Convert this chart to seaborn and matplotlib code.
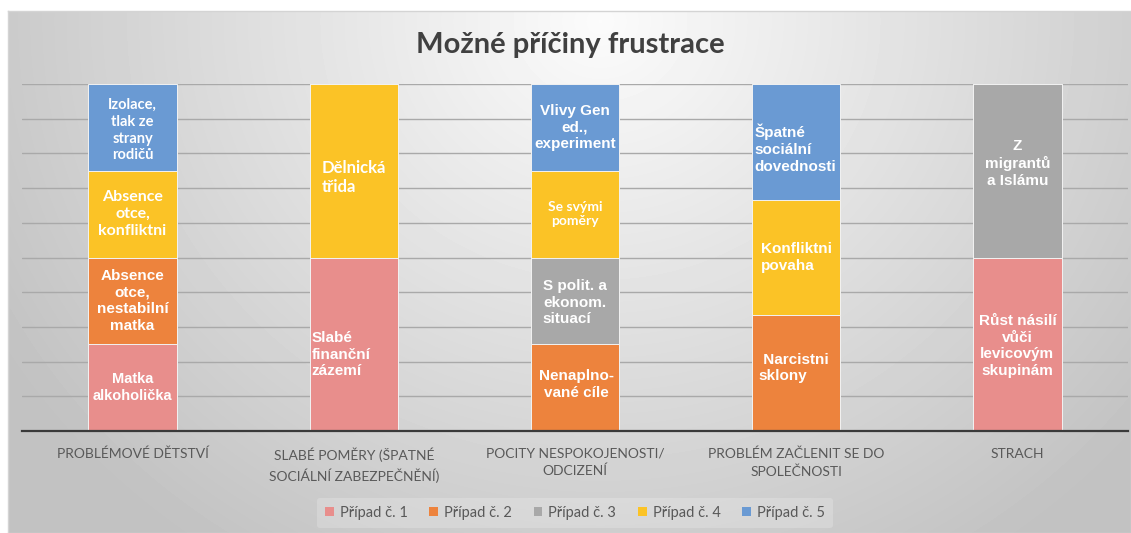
import numpy as np
import pandas as pd
import matplotlib.pyplot as plt
import seaborn as sns
from matplotlib.patches import Patch

# ---- data ----
categories = ["PROBLÉMOVÉ DĚTSTVÍ", "SLABÉ POMĚRY (ŠPATNÉ\nSOCIÁLNÍ ZABEZPEČNĚNÍ)",
              "POCITY NESPOKOJENOSTI/\nODCIZENÍ", "PROBLÉM ZAČLENIT SE DO\nSPOLEČNOSTI", "STRACH"]
series_names = ["Případ č. 1", "Případ č. 2", "Případ č. 3", "Případ č. 4", "Případ č. 5"]
pripad1 = [25, 50, 0, 0, 50]
pripad2 = [25, 0, 25, 33.33, 0]
pripad3 = [0, 0, 25, 0, 50]
pripad4 = [25, 50, 25, 33.33, 0]
pripad5 = [25, 0, 25, 33.34, 0]

labels1 = ["Matka\nalkoholička", "Slabé\nfinanční\nzázemí", "", "", "Růst násilí\nvůči\nlevicovým\nskupinám"]
labels2 = ["Absence\notce,\nnestabilní\nmatka", "", "Nenaplno-\nvané cíle", " Narcistni\nsklony", ""]
labels3 = ["", "", "S polit. a\nekonom.\nsituací", "", "Z\nmigrantů\na Islámu"]
labels4 = ["Absence\notce,\nkonfliktni", "Dělnická\ntřida", "Se svými\npoměry", "Konfliktni\npovaha", ""]
labels5 = ["Izolace,\ntlak ze\nstrany\nrodičů", "", "Vlivy Gen\ned.,\nexperiment", "Špatné\nsociální\ndovednosti", ""]

colors = ["#E88E8C", "#ED833D", "#A8A8A8", "#FBC326", "#6A9AD3"]

values = [pripad1, pripad2, pripad3, pripad4, pripad5]
seg_labels = [labels1, labels2, labels3, labels4, labels5]
cats_short = list(range(len(categories)))

# ---- figure ----
sns.set_theme(style="white")
plt.rcParams["font.family"] = ["Lato", "DejaVu Sans"]
fig = plt.figure(figsize=(11.31, 5.33), dpi=100)

# gradient background of the chart area
bg = fig.add_axes([8 / 1131, 0, 1 - 8 / 1131, 1 - 11 / 533], zorder=-5)
yy, xx = np.mgrid[0:522, 0:1123]
d = np.sqrt(((xx - 592) / 650.0) ** 2 + ((yy - 10) / 600.0) ** 2)
grad = np.clip(0.985 - 0.21 * d, 0.76, 1.0)
bg.imshow(grad, cmap="gray", vmin=0, vmax=1, aspect="auto", interpolation="bilinear")
bg.set_xticks([])
bg.set_yticks([])
for s in bg.spines.values():
    s.set_color("#d4d4d4")
    s.set_linewidth(1)

ax = fig.add_axes([22 / 1131, 102 / 533, 1106 / 1131, 347 / 533])
ax.patch.set_alpha(0)

df = pd.DataFrame({"cat": cats_short})
cum = np.cumsum(np.array(values), axis=0)
# stack by drawing cumulative totals from the top series down
for i in range(len(values) - 1, -1, -1):
    df["y"] = cum[i]
    sns.barplot(data=df, x="cat", y="y", color=colors[i], width=0.4, saturation=1,
                edgecolor="#f2f2f2", linewidth=0.7, ax=ax, zorder=2)

ax.set_ylim(0, 100)
ax.set_xlim(-0.5, 4.5)
ax.set_yticks(np.arange(10, 101, 10))
ax.yaxis.grid(True, color="#a9a9a9", linewidth=1)
ax.set_axisbelow(True)
ax.tick_params(axis="y", left=False, labelleft=False)
ax.set_ylabel("")
ax.set_xlabel("")
ax.set_xticks(cats_short)
ax.set_xticklabels(categories, fontsize=10, color="#595959", linespacing=1.5)
ax.tick_params(axis="x", bottom=False, pad=6)
for side in ["top", "left", "right"]:
    ax.spines[side].set_visible(False)
ax.spines["bottom"].set_color("#3a3a3a")
ax.spines["bottom"].set_linewidth(1.6)

# segment labels: (ha, dx, dy, size, family)
lab_style = {
    (0, 0): ("center", 0, 0, 10.5, "Liberation Sans"),
    (0, 1): ("left", -0.19, -3, 11, "Liberation Sans"),
    (0, 4): ("center", 0, -0.5, 11, "Liberation Sans"),
    (1, 0): ("center", 0, 0, 11, "Liberation Sans"),
    (1, 2): ("center", 0.005, 1, 11, "Liberation Sans"),
    (1, 3): ("left", -0.17, 1.5, 11, "Liberation Sans"),
    (2, 2): ("left", -0.145, -0.5, 11, "Liberation Sans"),
    (2, 4): ("center", 0, 2, 11, "Liberation Sans"),
    (3, 0): ("center", 0, 0, 11.5, "Lato"),
    (3, 1): ("left", -0.145, -2, 12, "Lato"),
    (3, 2): ("center", 0, 0, 10, "Lato"),
    (3, 3): ("left", -0.16, 0, 11, "Liberation Sans"),
    (4, 0): ("center", 0, -0.8, 10.5, "Lato"),
    (4, 2): ("center", 0, 0, 11, "Liberation Sans"),
    (4, 3): ("left", -0.19, -2, 11, "Liberation Sans"),
}
for i in range(len(values)):
    for j in cats_short:
        txt = seg_labels[i][j]
        if not txt:
            continue
        ha, dx, dy, size, fam = lab_style[(i, j)]
        bottom = cum[i][j] - values[i][j]
        t = ax.text(j + dx, bottom + values[i][j] / 2 + dy, txt, ha=ha, va="center",
                    color="white", fontsize=size, fontweight="bold",
                    family=[fam, "DejaVu Sans"], linespacing=1.25, multialignment=ha, zorder=5)
        clip = plt.Rectangle((j - 0.2, bottom), 0.4, values[i][j], transform=ax.transData)
        t.set_clip_path(clip)

fig.text(570 / 1131, 1 - 45 / 533, "Možné příčiny frustrace", ha="center", va="center",
         fontsize=21, fontweight="bold", color="#404040")

handles = [Patch(facecolor=c, edgecolor="none") for c in colors]
leg = fig.legend(handles, series_names, loc="center", bbox_to_anchor=(575 / 1131, 1 - 513 / 533),
                 ncol=5, frameon=True, fontsize=10.5, handlelength=0.6, handleheight=0.6,
                 handletextpad=0.4, columnspacing=1.5, borderpad=0.55)
leg.get_frame().set_facecolor("white")
leg.get_frame().set_alpha(0.2)
leg.get_frame().set_edgecolor("none")
for t in leg.get_texts():
    t.set_color("#595959")

fig.savefig("out.png", dpi=100)
